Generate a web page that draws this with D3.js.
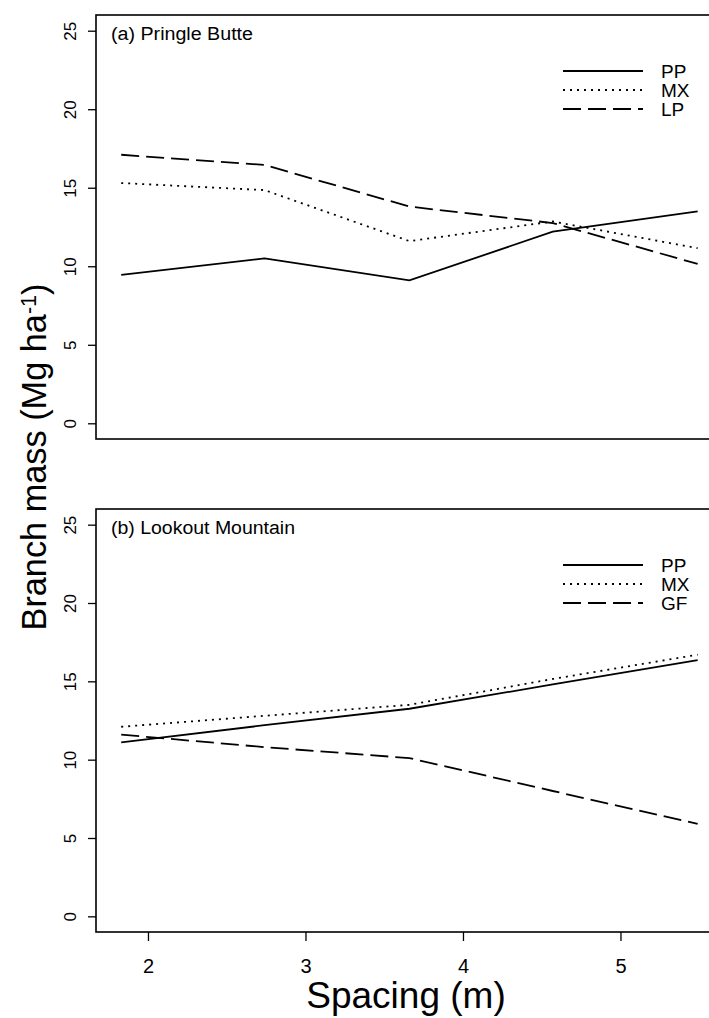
<!DOCTYPE html>
<html lang="en">
<head>
    <meta charset="UTF-8">
    <script type="text/javascript" src="https://d3js.org/d3.v7.min.js"></script>
    <title>Branch mass vs spacing</title>
    <style>
        body { margin: 0; background: #fff; }
        text { font-family: "Liberation Sans", Arial, Helvetica, sans-serif; fill: #000; }
    </style>
</head>
<body>
    <svg id="plot"></svg>
    <script>
        const width = 709;
        const height = 1018;

        // spacing (m) of the five plots
        const spacing = [1.83, 2.74, 3.66, 4.57, 5.49];

        // (a) Pringle Butte, branch mass Mg/ha
        const pringlePP = [9.45, 10.5, 9.1, 12.2, 13.5];
        const pringleMX = [15.3, 14.85, 11.6, 12.85, 11.15];
        const pringleLP = [17.1, 16.45, 13.8, 12.75, 10.15];

        // (b) Lookout Mountain
        const lookoutPP = [11.1, 12.2, 13.25, 14.8, 16.35];
        const lookoutMX = [12.1, 12.8, 13.5, 15.15, 16.7];
        const lookoutGF = [11.6, 10.8, 10.1, 8.0, 5.9];

        const yTicks = [0, 5, 10, 15, 20, 25];
        const xTicks = [2, 3, 4, 5];

        const dashes = {solid: null, dotted: "2,5", dashed: "18,7"};

        const svg = d3.select("#plot").attr("width", width).attr("height", height);

        const x = d3.scaleLinear().domain([1.67, 5.67]).range([96, 726]);

        const panels = [
            {title: "(a) Pringle Butte", titleLen: 142, top: 15, bottom: 439, axisX: false,
             series: [["PP", pringlePP, "solid"], ["MX", pringleMX, "dotted"], ["LP", pringleLP, "dashed"]]},
            {title: "(b) Lookout Mountain", titleLen: 184, top: 509, bottom: 932, axisX: true,
             series: [["PP", lookoutPP, "solid"], ["MX", lookoutMX, "dotted"], ["GF", lookoutGF, "dashed"]]}
        ];

        panels.forEach(p => {
            const y = d3.scaleLinear().domain([-1, 26]).range([p.bottom, p.top]);
            const g = svg.append("g");

            // frame
            g.append("rect")
                .attr("x", x.range()[0]).attr("y", p.top)
                .attr("width", x.range()[1] - x.range()[0]).attr("height", p.bottom - p.top)
                .attr("fill", "none").attr("stroke", "#000").attr("stroke-width", 1.6);

            // y axis, labels turned like R's default
            const yAxis = g.append("g")
                .attr("transform", `translate(${x.range()[0]},0)`)
                .call(d3.axisLeft(y).tickValues(yTicks).tickSize(8));
            yAxis.select(".domain").remove();
            yAxis.selectAll("line").attr("stroke-width", 1.3);
            yAxis.selectAll("text")
                .attr("x", 0).attr("dy", 0)
                .attr("text-anchor", "middle")
                .attr("transform", "translate(-20,0) rotate(-90)")
                .style("font-size", "17px")
                .style("font-family", "Liberation Sans, Arial, sans-serif");

            if (p.axisX) {
                const xAxis = g.append("g")
                    .attr("transform", `translate(0,${p.bottom})`)
                    .call(d3.axisBottom(x).tickValues(xTicks).tickSize(9).tickFormat(d3.format("d")));
                xAxis.select(".domain").remove();
                xAxis.selectAll("line").attr("stroke-width", 1.3);
                xAxis.selectAll("text")
                    .attr("y", 41).attr("dy", 0)
                    .style("font-size", "20px")
                    .style("font-family", "Liberation Sans, Arial, sans-serif");
            }

            // panel title
            g.append("text")
                .attr("x", 111).attr("y", p.top + 25)
                .attr("textLength", p.titleLen).attr("lengthAdjust", "spacingAndGlyphs")
                .style("font-size", "18px")
                .text(p.title);

            const line = d3.line()
                .x((d, i) => x(spacing[i]))
                .y(d => y(d));

            p.series.forEach((s, k) => {
                g.append("path")
                    .attr("d", line(s[1]))
                    .attr("fill", "none").attr("stroke", "#000")
                    .attr("stroke-width", 1.8)
                    .attr("stroke-dasharray", dashes[s[2]]);

                // legend
                const ly = p.top + 56 + k * 19;
                g.append("line")
                    .attr("x1", 563).attr("x2", 643).attr("y1", ly).attr("y2", ly)
                    .attr("stroke", "#000").attr("stroke-width", 1.8)
                    .attr("stroke-dasharray", dashes[s[2]]);
                g.append("text")
                    .attr("x", 661).attr("y", ly).attr("dy", "0.36em")
                    .style("font-size", "19px")
                    .text(s[0]);
            });
        });

        // axis titles
        svg.append("text")
            .attr("x", 406).attr("y", 1008)
            .attr("text-anchor", "middle")
            .style("font-size", "37px")
            .text("Spacing (m)");

        const yTitle = svg.append("text")
            .attr("transform", "translate(46,457) rotate(-90)")
            .attr("text-anchor", "middle")
            .attr("textLength", 347).attr("lengthAdjust", "spacingAndGlyphs")
            .style("font-size", "35px");
        yTitle.append("tspan").text("Branch mass (Mg ha");
        yTitle.append("tspan").attr("dy", "-0.45em").style("font-size", "22px").text("-1");
        yTitle.append("tspan").attr("dy", "0.3em").text(")");
    </script>
</body>
</html>
